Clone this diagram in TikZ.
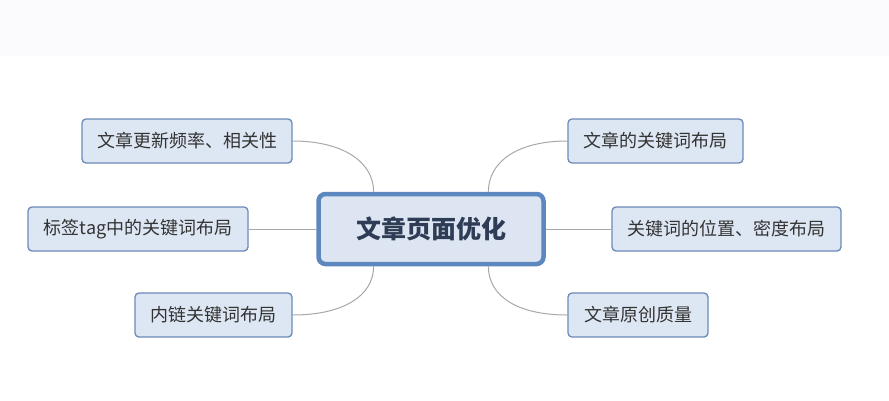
\documentclass[tikz,border=0pt]{standalone}
\usepackage{fontspec}
\newfontfamily\cjk{Noto Sans CJK SC}
\usetikzlibrary{calc}
\definecolor{leaffill}{HTML}{DDE7F3}
\definecolor{leafdraw}{HTML}{6A8BB8}
\definecolor{mainfill}{HTML}{DCE5F1}
\definecolor{maindraw}{HTML}{5C87BF}
\definecolor{maintext}{HTML}{2F3C55}
\definecolor{leaftext}{HTML}{333333}
\definecolor{linkcol}{HTML}{A8A8A8}
\definecolor{topband}{HTML}{FBFAFC}
\tikzset{
  leaf/.style={draw=leafdraw, fill=leaffill, line width=1.3pt, rounded corners=4pt,
    minimum height=44pt, inner sep=0pt, text=leaftext, font=\cjk\fontsize{18}{21}\selectfont},
  mainbox/.style={draw=maindraw, fill=mainfill, line width=4.5pt, rounded corners=7pt,
    minimum width=225pt, minimum height=70pt, inner sep=0pt, text=maintext,
    font=\cjk\bfseries\fontsize{25}{30}\selectfont},
  link/.style={draw=linkcol, line width=1pt}
}
\begin{document}
\begin{tikzpicture}[x=1pt,y=-1pt]
\useasboundingbox (0,0) rectangle (889,400);
\fill[white] (0,0) rectangle (889,400);
\fill[topband] (0,0) rectangle (889,56);

\coordinate (cc) at (431,229);
\node[mainbox] (c) at (cc) {文章页面优化};

\node[leaf, minimum width=210pt] (tl) at (187,141) {文章更新频率、相关性};
\node[leaf, minimum width=220pt] (ml) at (138,229) {标签tag中的关键词布局};
\node[leaf, minimum width=157pt] (bl) at (213.5,315) {内链关键词布局};
\node[leaf, minimum width=175pt] (tr) at (655.5,141) {文章的关键词布局};
\node[leaf, minimum width=229pt] (mr) at (726.5,229) {关键词的位置、密度布局};
\node[leaf, minimum width=140pt] (br) at (638,315) {文章原创质量};

\coordinate (ctl) at ($(c.north west)!0.25!(c.north east)$);
\coordinate (ctr) at ($(c.north west)!0.75!(c.north east)$);
\coordinate (cbl) at ($(c.south west)!0.25!(c.south east)$);
\coordinate (cbr) at ($(c.south west)!0.75!(c.south east)$);

\draw[link] (tl.east) .. controls ($(tl.east)+(50,0)$) and ($(ctl)+(0,-30)$) .. (ctl);
\draw[link] (bl.east) .. controls ($(bl.east)+(50,0)$) and ($(cbl)+(0,30)$) .. (cbl);
\draw[link] (tr.west) .. controls ($(tr.west)+(-50,0)$) and ($(ctr)+(0,-30)$) .. (ctr);
\draw[link] (br.west) .. controls ($(br.west)+(-50,0)$) and ($(cbr)+(0,30)$) .. (cbr);
\draw[link] (ml.east) -- (c.west);
\draw[link] (mr.west) -- (c.east);
\end{tikzpicture}
\end{document}
